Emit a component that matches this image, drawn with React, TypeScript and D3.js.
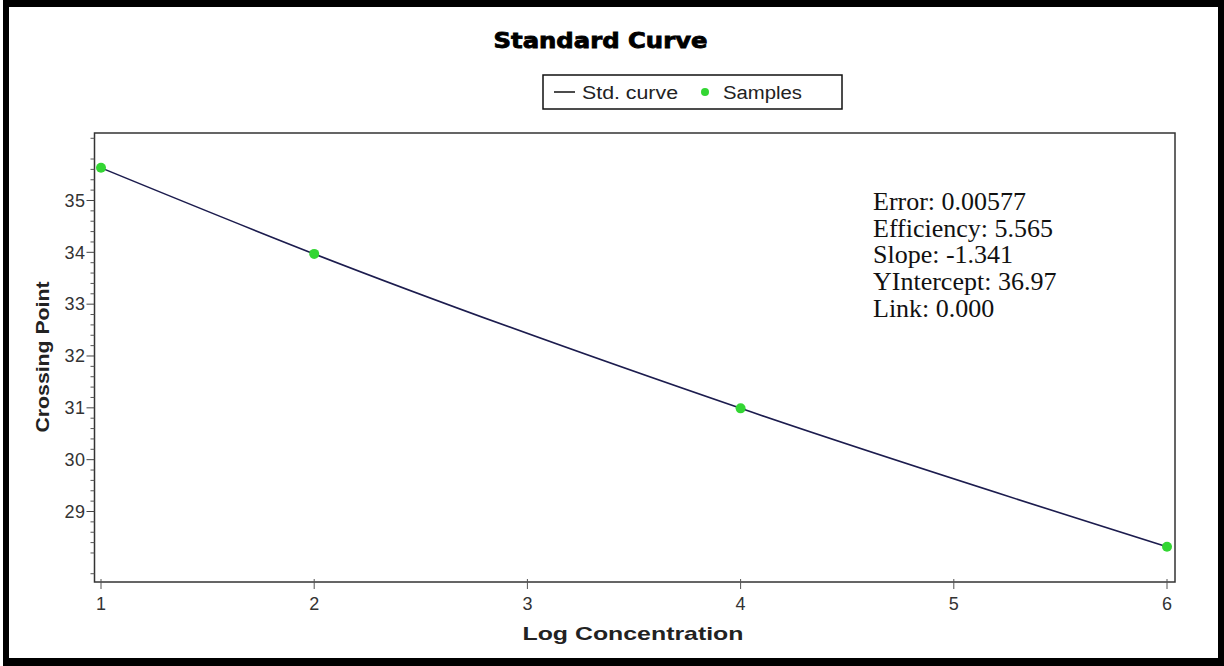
import React from "react";
import * as d3 from "d3";

const sampleX: number[] = [1, 2, 4, 6];
const sampleY: number[] = [35.63, 33.97, 30.99, 28.32];
const xTicks: number[] = [1, 2, 3, 4, 5, 6];
const yTicks: number[] = [29, 30, 31, 32, 33, 34, 35];
const stats: string[] = [
  "Error: 0.00577",
  "Efficiency: 5.565",
  "Slope: -1.341",
  "YIntercept: 36.97",
  "Link: 0.000",
];
const xDomain: [number, number] = [0.9695, 6.0375];
const yDomain: [number, number] = [27.64, 36.302];

const W = 1224;
const H = 666;
const plot = { left: 94.5, right: 1175, top: 133, bottom: 582 };

export default function App() {
  const x = d3.scaleLinear().domain(xDomain).range([plot.left, plot.right]);
  const y = d3.scaleLinear().domain(yDomain).range([plot.bottom, plot.top]);
  const pts = sampleX.map((v, i) => [v, sampleY[i]] as [number, number]);
  const line = d3
    .line<[number, number]>()
    .x((d) => x(d[0]))
    .y((d) => y(d[1]))
    .curve(d3.curveMonotoneX);

  const minor: number[] = [];
  for (let v = Math.ceil(yDomain[0] * 5); v <= Math.floor(yDomain[1] * 5); v++) {
    if (v % 5 !== 0) minor.push(v / 5);
  }
  const sans = "'Liberation Sans', Arial, sans-serif";
  return (
    <svg
      width={W}
      height={H}
      style={{ position: "absolute", left: 0, top: 0, display: "block" }}
    >
      <rect x={3} y={0} width={W - 3} height={H} fill="#000" />
      <rect x={9} y={7} width={1209} height={651} fill="#fff" />

      <text
        x={600.5}
        y={48}
        textAnchor="middle"
        fontFamily="'DejaVu Sans', sans-serif"
        fontWeight={900}
        fontSize={20.5}
        stroke="#000"
        strokeWidth={0.8}
        textLength={214}
        lengthAdjust="spacingAndGlyphs"
      >
        Standard Curve
      </text>

      {/* legend */}
      <rect x={543} y={75} width={299} height={34} fill="#fff" stroke="#111" strokeWidth={1.5} />
      <line x1={554} x2={575} y1={92} y2={92} stroke="#111" strokeWidth={1.5} />
      <text x={582} y={99} fontFamily={sans} fontSize={18} fill="#222" textLength={96} lengthAdjust="spacingAndGlyphs">
        Std. curve
      </text>
      <circle cx={705} cy={92} r={4} fill="#33d633" />
      <text x={723} y={99} fontFamily={sans} fontSize={18} fill="#222" textLength={79} lengthAdjust="spacingAndGlyphs">
        Samples
      </text>

      {/* plot frame */}
      <rect
        x={plot.left}
        y={plot.top}
        width={plot.right - plot.left}
        height={plot.bottom - plot.top}
        fill="#fff"
        stroke="#333"
        strokeWidth={1.5}
      />

      {/* y ticks */}
      {minor.map((v) => (
        <line key={"m" + v} x1={plot.left - 4} x2={plot.left} y1={y(v)} y2={y(v)} stroke="#555" strokeWidth={1} />
      ))}
      {yTicks.map((v) => (
        <g key={"y" + v}>
          <line x1={plot.left - 8} x2={plot.left} y1={y(v)} y2={y(v)} stroke="#444" strokeWidth={1} />
          <text
            x={plot.left - 9}
            y={y(v)}
            dy="0.35em"
            textAnchor="end"
            fontFamily={sans}
            fontSize={18}
            fill="#333"
            letterSpacing={0.5}
          >
            {v}
          </text>
        </g>
      ))}

      {/* x ticks */}
      {xTicks.map((v) => (
        <g key={"x" + v}>
          <line x1={x(v)} x2={x(v)} y1={plot.bottom - 3} y2={plot.bottom + 7} stroke="#555" strokeWidth={1} />
          <text
            x={x(v)}
            y={604}
            dy="0.35em"
            textAnchor="middle"
            fontFamily={sans}
            fontSize={18}
            fill="#333"
          >
            {v}
          </text>
        </g>
      ))}

      <text
        x={633}
        y={633}
        dy="0.35em"
        textAnchor="middle"
        fontFamily={sans}
        fontWeight="bold"
        fontSize={19}
        fill="#222"
        textLength={221}
        lengthAdjust="spacingAndGlyphs"
      >
        Log Concentration
      </text>
      <text
        transform={`translate(43,357) rotate(-90)`}
        dy="0.35em"
        textAnchor="middle"
        fontFamily={sans}
        fontWeight="bold"
        fontSize={18.5}
        fill="#222"
        textLength={151}
        lengthAdjust="spacingAndGlyphs"
      >
        Crossing Point
      </text>

      {/* curve */}
      <path d={line(pts) || ""} fill="none" stroke="#1c1c4e" strokeWidth={1.6} />
      {pts.map((p, i) => (
        <circle key={"p" + i} cx={x(p[0])} cy={y(p[1])} r={5} fill="#33d633" />
      ))}

      {/* stats */}
      {stats.map((s, i) => (
        <text
          key={"s" + i}
          x={873}
          y={210 + i * 26.7}
          fontFamily="'Liberation Serif', 'Times New Roman', serif"
          fontSize={26}
          fill="#111"
        >
          {s}
        </text>
      ))}
    </svg>
  );
}
